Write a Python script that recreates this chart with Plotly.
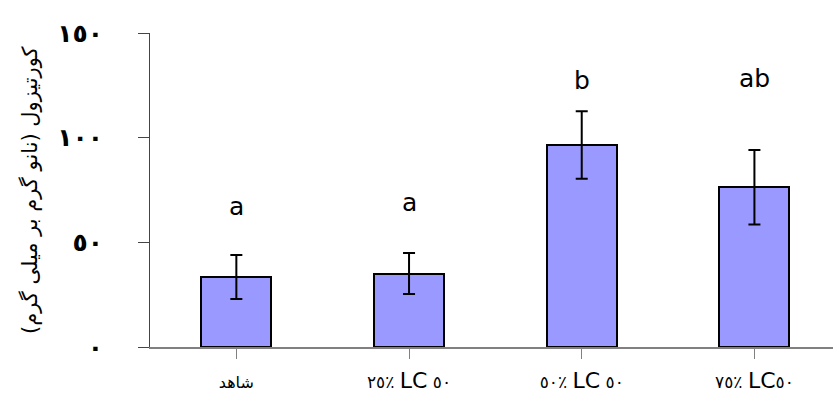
import plotly.graph_objects as go

categories = ["شاهد", "٢٥٪ LC ٥٠", "٥٠٪ LC ٥٠", "٧٥٪ LC٥٠"]
tick_text = [
    "<span style='font-size:16px'>شاهد</span>",
    "٢٥٪ <span style='font-size:22px'>LC</span> ٥٠",
    "٥٠٪ <span style='font-size:22px'>LC</span> ٥٠",
    "٧٥٪ <span style='font-size:22px'>LC</span>٥٠",
]
values = [33.4, 35.1, 96.5, 76.3]
errors = [10.5, 9.8, 16.1, 17.8]
letters = ["a", "a", "b", "ab"]
letter_y = [67.3, 68.8, 127.5, 128.5]
y_ticks = [0, 50, 100, 150]
y_tick_text = ["<b>٠</b>", "<b>٥٠</b>", "<b>١٠٠</b>", "<b>١٥٠</b>"]
y_title = "کورتیزول (نانو گرم بر میلی گرم)"

x_idx = list(range(len(categories)))

fig = go.Figure()
fig.add_trace(go.Bar(
    x=x_idx, y=values, width=0.405,
    marker=dict(color="#9999FF", line=dict(color="black", width=2)),
    error_y=dict(type="data", array=errors, visible=True, color="black",
                 thickness=2, width=6),
))

for xi, lt, ly in zip(x_idx, letters, letter_y):
    fig.add_annotation(x=xi, y=ly, text=lt, showarrow=False,
                       font=dict(family="DejaVu Sans", size=25, color="black"),
                       xanchor="center", yanchor="middle")

fig.add_annotation(xref="paper", yref="paper", x=(30 - 150) / 683, y=0.5,
                   text=y_title, textangle=-90, showarrow=False,
                   font=dict(family="DejaVu Sans", size=21, color="black"),
                   xanchor="center", yanchor="middle")

fig.update_layout(
    width=833, height=394,
    margin=dict(l=150, r=0, t=33, b=47, autoexpand=False),
    plot_bgcolor="white", paper_bgcolor="white",
    showlegend=False,
    bargap=0,
)
fig.update_xaxes(
    range=[-0.5, 3.455], tickmode="array", tickvals=x_idx, ticktext=tick_text,
    tickson="boundaries", ticks="outside", ticklen=10, tickcolor="#808080",
    showline=True, linecolor="#808080", linewidth=2, showgrid=False,
    tickfont=dict(family="DejaVu Sans", size=17, color="black"),
    ticklabelstandoff=9, automargin=False,
)
fig.update_yaxes(
    range=[0, 150], tickmode="array", tickvals=y_ticks, ticktext=y_tick_text,
    ticks="outside", ticklen=11, tickcolor="#444", showline=True,
    linecolor="#444", linewidth=1, showgrid=False, zeroline=False,
    tickfont=dict(family="DejaVu Sans", size=25, color="black"),
    ticklabelstandoff=30, automargin=False,
)

fig.write_html("out.html")
